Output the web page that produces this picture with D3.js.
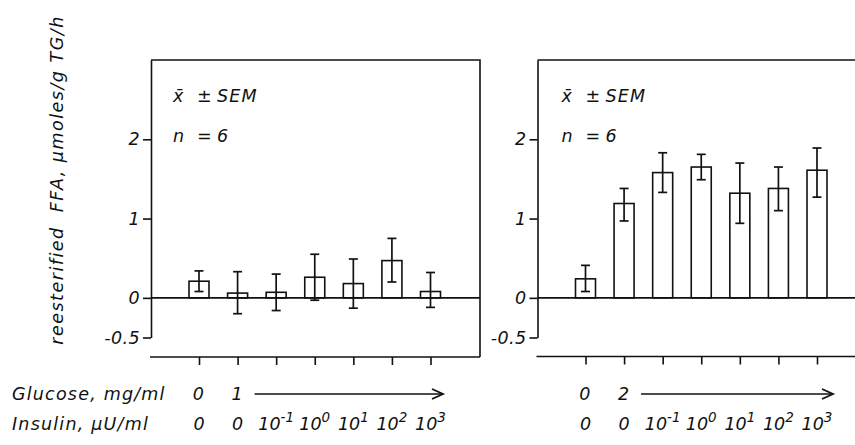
<!DOCTYPE html>
<html>
<head>
<meta charset="utf-8">
<script src="https://cdn.jsdelivr.net/npm/d3@7"></script>
<style>
  html, body { margin: 0; padding: 0; background: #fff; }
  svg { display: block; }
  text { font-family: "DejaVu Sans", sans-serif; font-style: italic; fill: #111; letter-spacing: 1.2px; }
</style>
</head>
<body>
<svg id="chart"></svg>
<script>
// conditions along x (same in both panels)
const conditions = ['c0', 'c1', 'c2', 'c3', 'c4', 'c5', 'c6'];
const insulinBase = ['0', '0', '10', '10', '10', '10', '10'];
const insulinExp = ['', '', '-1', '0', '1', '2', '3'];
const glucoseLeft = ['0', '1'];
const glucoseRight = ['0', '2'];

// reesterified FFA, mean and SEM limits
const leftMean = [0.21, 0.06, 0.07, 0.26, 0.18, 0.47, 0.08];
const leftHigh = [0.34, 0.33, 0.30, 0.55, 0.49, 0.75, 0.32];
const leftLow = [0.08, -0.20, -0.16, -0.03, -0.13, 0.20, -0.12];

const rightMean = [0.24, 1.19, 1.58, 1.65, 1.32, 1.38, 1.61];
const rightHigh = [0.41, 1.38, 1.83, 1.81, 1.70, 1.65, 1.89];
const rightLow = [0.08, 0.97, 1.33, 1.49, 0.94, 1.10, 1.27];

const yTicks = [2, 1, 0, -0.5];
const statText = ['x\u0304', '\u00b1', 'SEM'];
const nText = ['n', '=', '6'];

const width = 855, height = 445;

const svg = d3.select('#chart')
    .attr('width', width)
    .attr('height', height);

const y = d3.scaleLinear()
    .domain([-0.5, 3])
    .range([337.5, 60]);

function drawPanel(p) {
    const g = svg.append('g');
    const x = d3.scalePoint()
        .domain(conditions)
        .range([p.x0 + 48, p.x0 + 279.5]);

    const data = conditions.map((c, i) => ({
        c: c, mean: p.mean[i], lo: p.low[i], hi: p.high[i]
    }));

    // frame: top and right
    g.append('path')
        .attr('d', `M${p.x0},${y(3)}H${p.x1}V${p.bottom}`)
        .attr('fill', 'none')
        .attr('stroke', '#111')
        .attr('stroke-width', 1.6);

    // y axis (spine stops at -0.5)
    const yAxis = d3.axisLeft(y)
        .tickValues(yTicks)
        .tickSize(8)
        .tickSizeOuter(0)
        .tickPadding(3)
        .tickFormat(d => d === -0.5 ? '-0.5' : d3.format('d')(d));
    const ya = g.append('g')
        .attr('transform', `translate(${p.x0},0)`)
        .call(yAxis);
    ya.selectAll('path, line').attr('stroke', '#111').attr('stroke-width', 1.6);
    ya.selectAll('text')
        .style('font-size', '17.5px')
        .style('letter-spacing', '0.4px')
        .attr('fill', '#111')
        .attr('font-family', null);

    // bars
    g.selectAll('rect.bar')
        .data(data)
        .enter()
        .append('rect')
        .attr('class', 'bar')
        .attr('x', d => x(d.c) - 10)
        .attr('width', 20)
        .attr('y', d => y(Math.max(0, d.mean)))
        .attr('height', d => Math.abs(y(d.mean) - y(0)))
        .attr('fill', '#fff')
        .attr('stroke', '#111')
        .attr('stroke-width', 1.6);

    // zero line
    g.append('line')
        .attr('x1', p.x0).attr('x2', p.x1)
        .attr('y1', y(0)).attr('y2', y(0))
        .attr('stroke', '#111')
        .attr('stroke-width', 1.8);

    // error bars
    const eb = g.selectAll('g.err')
        .data(data)
        .enter()
        .append('g')
        .attr('class', 'err')
        .attr('stroke', '#111')
        .attr('stroke-width', 1.7);
    eb.append('line')
        .attr('x1', d => x(d.c)).attr('x2', d => x(d.c))
        .attr('y1', d => y(d.hi)).attr('y2', d => y(d.lo));
    eb.append('line')
        .attr('x1', d => x(d.c) - 4.5).attr('x2', d => x(d.c) + 4.5)
        .attr('y1', d => y(d.hi)).attr('y2', d => y(d.hi));
    eb.append('line')
        .attr('x1', d => x(d.c) - 4.5).attr('x2', d => x(d.c) + 4.5)
        .attr('y1', d => y(d.lo)).attr('y2', d => y(d.lo));

    // bottom line with ticks
    g.append('line')
        .attr('x1', p.x0 - 1).attr('x2', p.x1)
        .attr('y1', p.bottom).attr('y2', p.bottom)
        .attr('stroke', '#111')
        .attr('stroke-width', 1.6);
    const xAxis = d3.axisBottom(x)
        .tickSize(8)
        .tickSizeOuter(0)
        .tickFormat('');
    const xa = g.append('g')
        .attr('transform', `translate(0,${p.bottom})`)
        .call(xAxis);
    xa.select('.domain').remove();
    xa.selectAll('line').attr('stroke', '#111').attr('stroke-width', 1.6);

    // annotation
    const offs = [0, 24, 44];
    statText.forEach((t, i) => {
        g.append('text')
            .attr('x', p.x0 + p.tx + offs[i])
            .attr('y', 101.5)
            .style('font-size', '17.5px')
            .text(t);
    });
    nText.forEach((t, i) => {
        g.append('text')
            .attr('x', p.x0 + p.tx + offs[i])
            .attr('y', 141.5)
            .style('font-size', '17.5px')
            .text(t);
    });

    // glucose row
    p.glucose.forEach((t, i) => {
        g.append('text')
            .attr('x', x(conditions[i]))
            .attr('y', 400)
            .attr('text-anchor', 'middle')
            .style('font-size', '17.5px')
            .text(t);
    });
    const ax0 = x(conditions[1]) + 17, ax1 = p.x0 + p.arrowEnd;
    g.append('line')
        .attr('x1', ax0).attr('x2', ax1 - 1)
        .attr('y1', 394).attr('y2', 394)
        .attr('stroke', '#111')
        .attr('stroke-width', 1.5);
    g.append('path')
        .attr('d', `M${ax1 - 11},${389}L${ax1},${394}L${ax1 - 11},${399}`)
        .attr('fill', 'none')
        .attr('stroke', '#111')
        .attr('stroke-width', 1.8);

    // insulin row
    conditions.forEach((c, i) => {
        const t = g.append('text')
            .attr('x', x(c))
            .attr('y', 430)
            .attr('text-anchor', 'middle')
            .style('font-size', '17.5px')
            .style('letter-spacing', '0px');
        t.append('tspan').text(insulinBase[i]);
        if (insulinExp[i] !== '') {
            t.append('tspan')
                .attr('dy', -8)
                .style('font-size', '13.5px')
                .text(insulinExp[i]);
        }
    });
}

drawPanel({
    x0: 151, x1: 480, bottom: 357, tx: 22, arrowEnd: 292,
    mean: leftMean, low: leftLow, high: leftHigh, glucose: glucoseLeft
});
drawPanel({
    x0: 537.5, x1: 866.5, bottom: 356.5, tx: 24, arrowEnd: 295.5,
    mean: rightMean, low: rightLow, high: rightHigh, glucose: glucoseRight
});

// row titles
svg.append('text')
    .attr('x', 12)
    .attr('y', 400)
    .style('font-size', '17.5px')
    .text('Glucose, mg/ml');
svg.append('text')
    .attr('x', 12)
    .attr('y', 430)
    .style('font-size', '17.5px')
    .text('Insulin, \u00b5U/ml');

// y axis title
svg.append('text')
    .attr('transform', 'translate(63,180) rotate(-90)')
    .attr('text-anchor', 'middle')
    .style('font-size', '17.5px')
    .style('letter-spacing', '1.5px')
    .style('white-space', 'pre')
    .text('reesterified  FFA, \u00b5moles/g TG/h');
</script>
</body>
</html>
